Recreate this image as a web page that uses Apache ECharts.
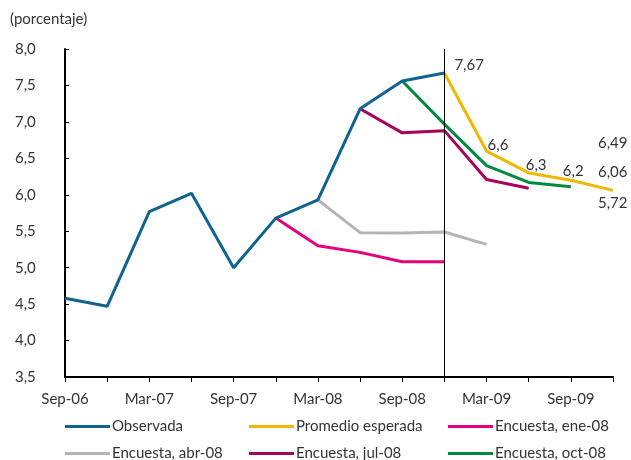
<!DOCTYPE html>
<html>
<head>
<meta charset="utf-8">
<script src="https://cdn.jsdelivr.net/npm/echarts@6/dist/echarts.min.js"></script>
<style>
  html, body { margin: 0; padding: 0; background: #fff; }
  #chart { width: 631px; height: 460px; }
</style>
</head>
<body>
<div id="chart"></div>
<script>
// Quarterly periods, Sep-06 to Dec-09
const periods = ['Sep-06','Dec-06','Mar-07','Jun-07','Sep-07','Dec-07','Mar-08','Jun-08',
                 'Sep-08','Dec-08','Mar-09','Jun-09','Sep-09','Dec-09'];

// Observed values
const observada   = [4.58, 4.47, 5.77, 6.02, 5.00, 5.68, 5.93, 7.18, 7.56, 7.67, null, null, null, null];
// Average expected path
const promedio    = [null, null, null, null, null, null, null, null, null, 7.67, 6.6, 6.3, 6.2, 6.06];
// Survey paths
const encEne08    = [null, null, null, null, null, 5.68, 5.30, 5.21, 5.08, 5.08, null, null, null, null];
const encAbr08    = [null, null, null, null, null, null, 5.93, 5.48, 5.475, 5.49, 5.32, null, null, null];
const encJul08    = [null, null, null, null, null, null, null, 7.18, 6.85, 6.88, 6.21, 6.09, null, null];
const encOct08    = [null, null, null, null, null, null, null, null, 7.56, 6.97, 6.40, 6.17, 6.11, null];

// Range bounds shown beside the last expected value
const rangeHigh = 6.49;
const rangeLow  = 5.72;

const yTicks = { min: 3.5, max: 8.0, step: 0.5 };

const txt = '#333333';
const font = 'Lato';
const fs = 15;

const fmt = v => String(v).replace('.', ',');

// Label offsets (px) for each labelled point of the expected path
const promLabelPos = {
  9:  [10, -8],
  10: [1, -6],
  11: [-3, -8],
  12: [-8, -9],
  13: [-15, -18]
};

const promData = promedio.map((v, i) => {
  if (v == null) return null;
  const off = promLabelPos[i];
  return {
    value: v,
    label: off ? {
      show: true, position: 'inside', offset: off, align: 'left',
      verticalAlign: 'middle', formatter: () => fmt(v),
      color: txt, fontFamily: font, fontSize: fs
    } : { show: false }
  };
});

function lineSeries(name, data, color) {
  return {
    name, type: 'line', data, connectNulls: false,
    symbol: 'none', lineStyle: { color, width: 3 }, itemStyle: { color },
    z: 3
  };
}

// One legend entry per slot: [name, left, top]
const legendSlots = [
  ['Observada',         65,  419],
  ['Promedio esperada', 249, 419],
  ['Encuesta, ene-08',  448, 419],
  ['Encuesta, abr-08',  65,  446],
  ['Encuesta, jul-08',  249, 446],
  ['Encuesta, oct-08',  448, 446]
];

const legends = legendSlots.map(([name, left, top]) => ({
  left, top, data: [name], orient: 'horizontal',
  itemWidth: 45, itemHeight: 3, icon: 'rect', itemGap: 0, padding: 0,
  textStyle: { color: txt, fontFamily: font, fontSize: fs, padding: [0, 0, 0, -3] }
}));

const chart = echarts.init(document.getElementById('chart'));

chart.setOption({
  animation: false,
  backgroundColor: '#ffffff',
  grid: { left: 65, right: 18, top: 49, bottom: 83, containLabel: false },
  title: {
    text: '(porcentaje)', left: 5, top: 7,
    textStyle: { color: txt, fontFamily: font, fontSize: fs, fontWeight: 'normal' }
  },
  legend: legends,
  xAxis: {
    type: 'category', data: periods, boundaryGap: false,
    axisLine: { lineStyle: { color: '#000', width: 2 } },
    axisTick: { show: true, length: 5, inside: false, interval: 0, lineStyle: { color: '#000', width: 1 } },
    axisLabel: { interval: 1, color: txt, fontFamily: font, fontSize: fs, margin: 15 },
    splitLine: { show: false }
  },
  yAxis: {
    type: 'value', min: yTicks.min, max: yTicks.max, interval: yTicks.step,
    axisLine: { show: true, lineStyle: { color: '#000', width: 2 } },
    axisTick: { show: true, inside: true, length: 4, lineStyle: { color: '#000', width: 1 } },
    axisLabel: { color: txt, fontFamily: font, fontSize: fs, margin: 50, align: 'left',
                 formatter: v => v.toFixed(1).replace('.', ',') },
    splitLine: { show: false }
  },
  series: [
    Object.assign(lineSeries('Observada', observada, '#0f6390'), {
      z: 4,
      markLine: {
        silent: true, symbol: 'none', label: { show: false },
        lineStyle: { color: '#000', width: 1, type: 'solid' },
        data: [{ xAxis: 'Dec-08' }]
      }
    }),
    Object.assign(lineSeries('Promedio esperada', promData, '#f2b700'), {
      symbol: 'circle', symbolSize: 0.01, showSymbol: true,
      markPoint: {
        symbol: 'circle', symbolSize: 0,
        label: { show: true, color: txt, fontFamily: font, fontSize: fs, align: 'left' },
        data: [
          { coord: ['Dec-09', rangeHigh], value: rangeHigh,
            label: { formatter: () => fmt(rangeHigh), offset: [-15, -16] } },
          { coord: ['Dec-09', rangeLow], value: rangeLow,
            label: { formatter: () => fmt(rangeLow), offset: [-15, -12] } }
        ]
      }
    }),
    lineSeries('Encuesta, ene-08', encEne08, '#e5007d'),
    lineSeries('Encuesta, abr-08', encAbr08, '#b4b4b4'),
    lineSeries('Encuesta, jul-08', encJul08, '#a8005c'),
    lineSeries('Encuesta, oct-08', encOct08, '#008a3e')
  ]
});
</script>
</body>
</html>
